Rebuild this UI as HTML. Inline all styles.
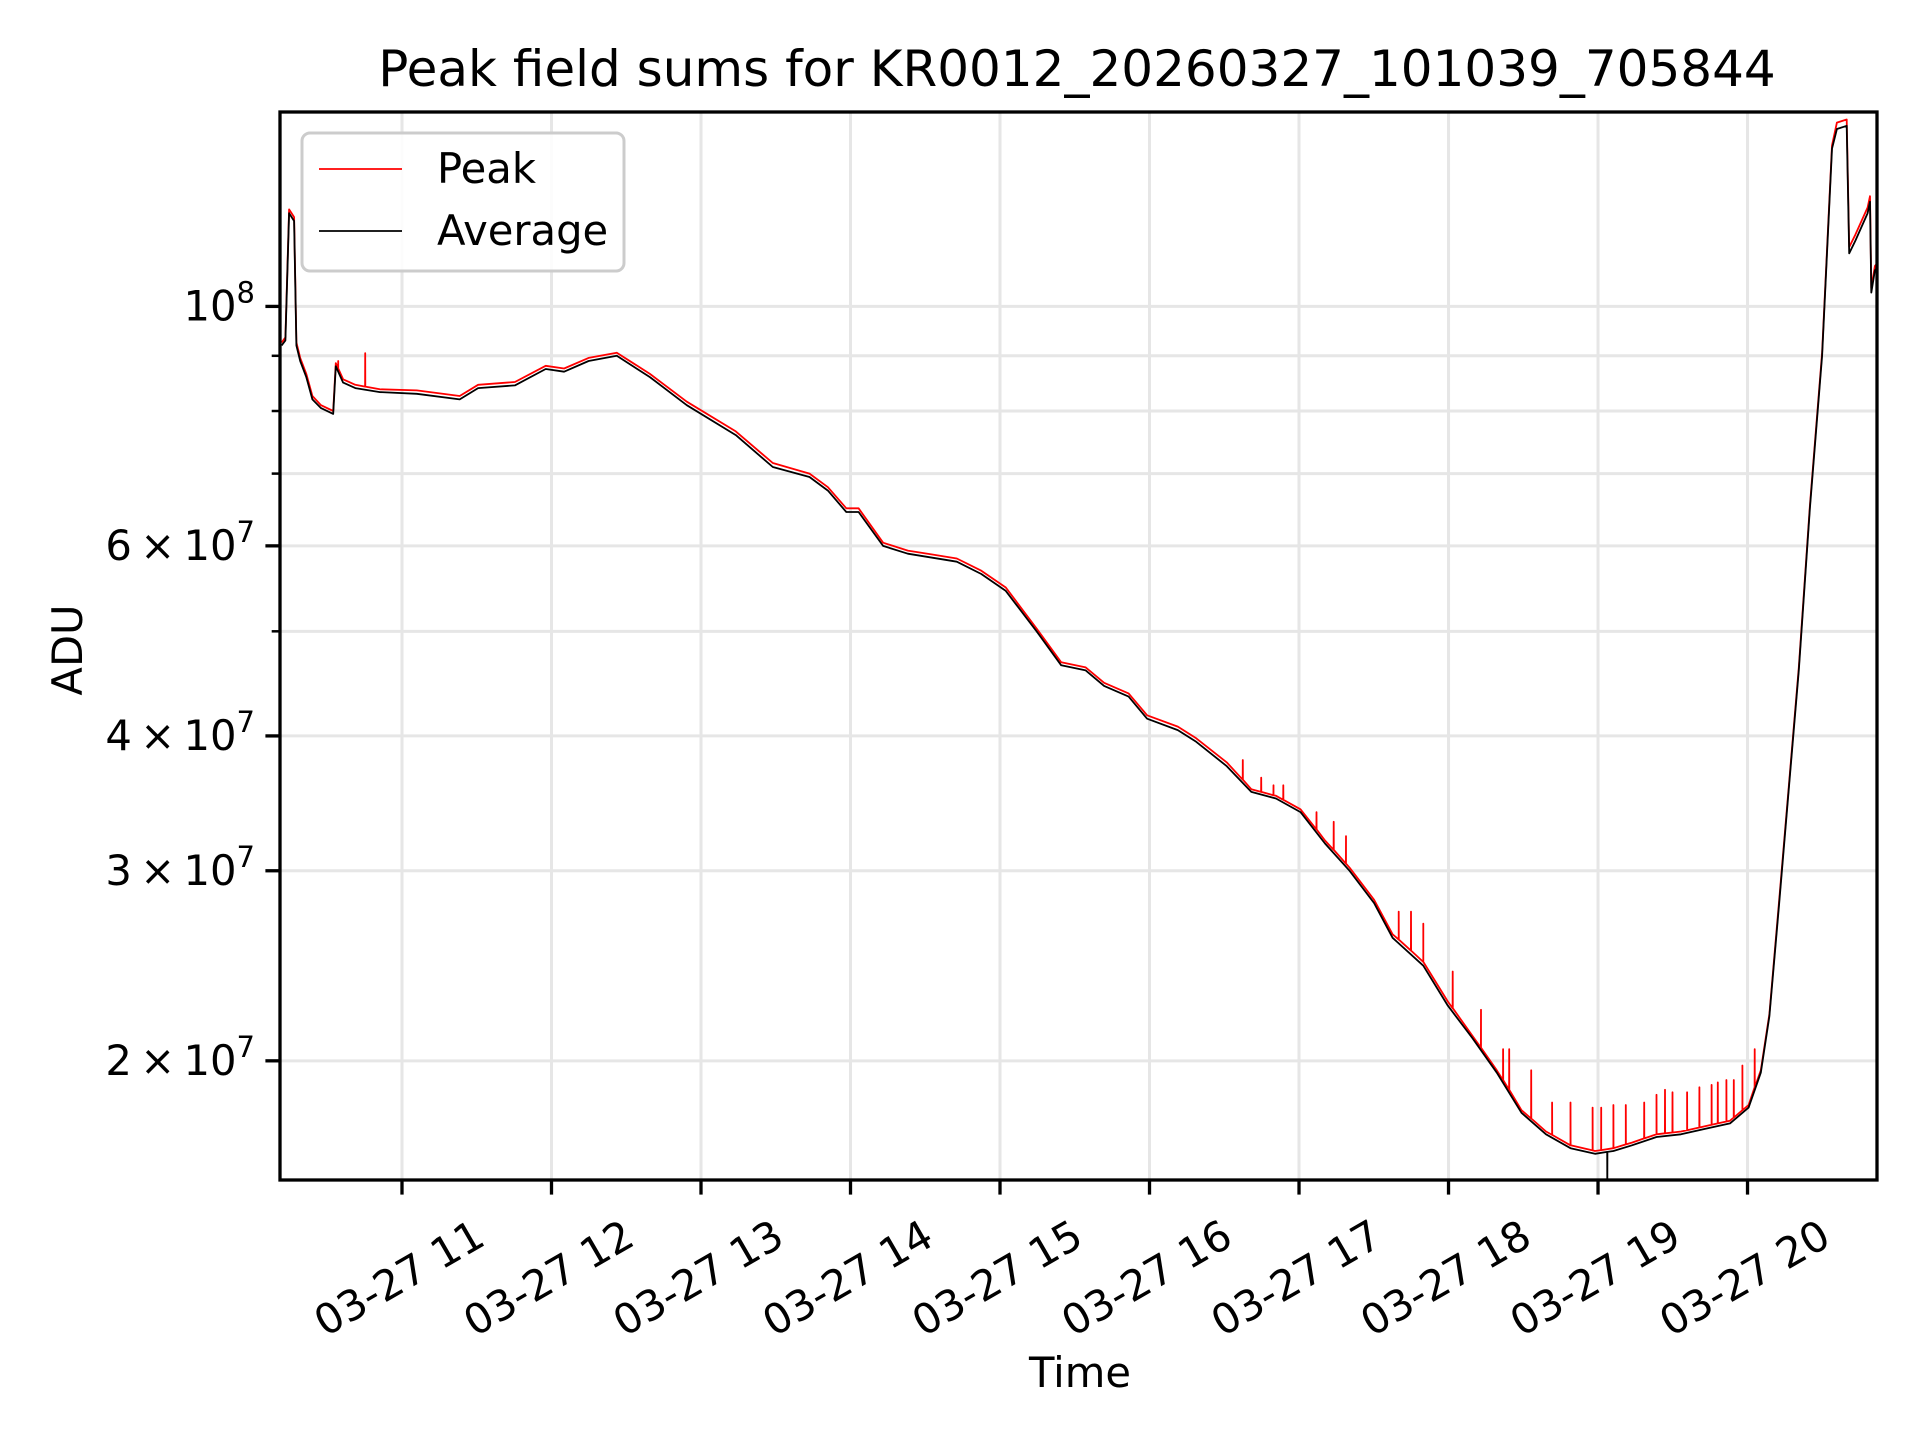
<!DOCTYPE html>
<html><head><meta charset="utf-8"><style>
html,body{margin:0;padding:0;background:#fff;}
svg{display:block;font-family:"DejaVu Sans","Liberation Sans",sans-serif;}
</style></head><body>
<svg id="chart" width="1920" height="1440" viewBox="0 0 1920 1440" xmlns="http://www.w3.org/2000/svg">
<rect width="1920" height="1440" fill="#fff"/>
<text x="1077" y="86" font-size="50" text-anchor="middle">Peak field sums for KR0012_20260327_101039_705844</text>
<g id="grid"></g>
<g id="series"></g>
<g id="axes"></g>
<text x="0" y="0" font-size="41.7" text-anchor="middle" transform="translate(82,650) rotate(-90)">ADU</text>
<text x="1080" y="1387" font-size="41.7" text-anchor="middle">Time</text>
<g>
<rect x="302" y="133" width="322" height="138" rx="8" fill="#fff" fill-opacity="0.85" stroke="#ccc" stroke-width="3"/>
<line x1="319" y1="169" x2="402" y2="169" stroke="#f00" stroke-width="1.8"/>
<text x="437" y="183" font-size="41.7">Peak</text>
<line x1="319" y1="231" x2="402" y2="231" stroke="#000" stroke-width="1.8"/>
<text x="437" y="245" font-size="41.7">Average</text>
</g>
</svg>
<script>
// data (time in decimal hours on 03-27, values in units of 1e7 ADU)
const avgTimes = [10.195,10.220,10.245,10.278,10.294,10.319,10.360,10.401,10.458,10.540,10.557,10.606,10.688,10.852,11.099,11.386,11.509,11.755,11.961,12.084,12.248,12.437,12.658,12.905,13.233,13.480,13.726,13.849,13.972,14.054,14.218,14.383,14.547,14.711,14.875,15.039,15.245,15.409,15.573,15.696,15.860,15.984,16.189,16.312,16.517,16.681,16.846,17.010,17.174,17.338,17.502,17.626,17.831,17.995,18.159,18.323,18.488,18.652,18.816,18.980,19.103,19.227,19.391,19.555,19.719,19.883,20.007,20.089,20.146,20.212,20.278,20.343,20.417,20.499,20.565,20.598,20.663,20.680,20.721,20.803,20.819,20.828,20.852,20.877];
const avgValues = [9.2,9.3,12.2,12.0,9.2,8.9,8.6,8.2,8.05,7.95,8.8,8.5,8.4,8.33,8.3,8.2,8.4,8.45,8.75,8.7,8.9,9.0,8.6,8.1,7.6,7.1,6.95,6.75,6.45,6.45,6.0,5.9,5.85,5.8,5.65,5.45,5.0,4.65,4.6,4.45,4.35,4.15,4.05,3.95,3.75,3.55,3.5,3.4,3.18,3.0,2.8,2.6,2.45,2.25,2.1,1.95,1.79,1.71,1.66,1.64,1.65,1.67,1.7,1.71,1.73,1.75,1.81,1.95,2.2,2.8,3.6,4.6,6.5,9.0,14.0,14.6,14.7,11.2,11.5,12.2,12.5,10.3,10.8,10.9];
const peakValues = [9.26,9.36,12.3,12.1,9.26,8.96,8.66,8.26,8.1,8.0,8.86,8.56,8.46,8.38,8.36,8.26,8.46,8.51,8.81,8.76,8.96,9.06,8.66,8.16,7.66,7.16,7.0,6.8,6.5,6.5,6.04,5.94,5.89,5.84,5.69,5.49,5.03,4.68,4.63,4.48,4.38,4.18,4.08,3.98,3.78,3.57,3.52,3.42,3.2,3.02,2.82,2.62,2.47,2.27,2.11,1.96,1.8,1.72,1.67,1.65,1.66,1.68,1.71,1.72,1.74,1.76,1.82,1.96,2.21,2.82,3.62,4.63,6.54,9.06,14.1,14.8,14.9,11.35,11.65,12.35,12.65,10.4,10.9,11.0];
const spikeTimes = [10.573,10.754,16.624,16.747,16.829,16.895,17.117,17.232,17.314,17.667,17.749,17.831,18.028,18.217,18.365,18.406,18.553,18.693,18.816,18.964,19.021,19.103,19.186,19.309,19.391,19.448,19.498,19.596,19.678,19.760,19.801,19.859,19.908,19.966,20.048];
const spikeValues = [8.9,9.05,3.8,3.66,3.6,3.6,3.4,3.33,3.23,2.75,2.75,2.68,2.42,2.23,2.05,2.05,1.96,1.83,1.83,1.81,1.81,1.82,1.82,1.83,1.86,1.88,1.87,1.87,1.89,1.9,1.91,1.92,1.92,1.98,2.05];
const dipTimes = [19.062];
const dipValues = [1.50];
const yTickValues = [2,3,4,5,6,7,8,9,10];
const yTickLabels = ["2","3","4","","6","","","","8"];
const xTickHours = [11,12,13,14,15,16,17,18,19,20];
const xTickLabels = ["03-27 11","03-27 12","03-27 13","03-27 14","03-27 15","03-27 16","03-27 17","03-27 18","03-27 19","03-27 20"];

const L=280,R=1877,T=112,B=1180;
const X0=10.184,X1=20.866;
const YMIN=Math.log10(1.551),YMAX=Math.log10(15.14);
const NS="http://www.w3.org/2000/svg";
function xs(h){return L+(h-X0)/(X1-X0)*(R-L);}
function ys(v){return B-(Math.log10(v)-YMIN)/(YMAX-YMIN)*(B-T);}
function mk(tag,attrs,parent){const e=document.createElementNS(NS,tag);for(const k in attrs)e.setAttribute(k,attrs[k]);parent.appendChild(e);return e;}
function interp(t,ts,vs){for(let i=1;i<ts.length;i++){if(t<=ts[i]){const f=(t-ts[i-1])/(ts[i]-ts[i-1]);return vs[i-1]+f*(vs[i]-vs[i-1]);}}return vs[vs.length-1];}

const grid=document.getElementById('grid'),series=document.getElementById('series'),axes=document.getElementById('axes');
mk('defs',{},document.getElementById('chart')).innerHTML='<clipPath id="clip"><rect x="'+L+'" y="'+T+'" width="'+(R-L)+'" height="'+(B-T)+'"/></clipPath>';
series.setAttribute('clip-path','url(#clip)');

yTickValues.forEach((v,i)=>{
  const y=ys(v);
  const g=mk('line',{x1:L,x2:R,y1:y,y2:y,stroke:'#e6e6e6','stroke-width':3},grid);
  
  
  const tk=mk('line',{x1:L-(yTickLabels[i]?14.6:8.3),x2:L,y1:y,y2:y,stroke:'#000','stroke-width':yTickLabels[i]?3.3:2.5},axes);
  
  
  if(yTickLabels[i]){
    const t=mk('text',{x:L-25,y:y+14,'font-size':41.7,'text-anchor':'end'},axes);
    
    
    if(yTickLabels[i]==="8"){t.innerHTML='10<tspan dy="-18" font-size="29">8</tspan>';}
    else{t.innerHTML=yTickLabels[i]+'\u2009\u00d7\u200910<tspan dy="-18" font-size="29">7</tspan>';}
  }
});
xTickHours.forEach((h,i)=>{
  const x=xs(h);
  const g=mk('line',{x1:x,x2:x,y1:T,y2:B,stroke:'#e6e6e6','stroke-width':3},grid);
  
  
  const tk=mk('line',{x1:x,x2:x,y1:B,y2:B+14.6,stroke:'#000','stroke-width':3.3},axes);
  
  
  const t=mk('text',{x:0,y:0,'font-size':41.7,'text-anchor':'middle','dominant-baseline':'central',transform:'translate('+(x-3)+',1278) rotate(-30)'},axes);
  
  
  t.textContent=xTickLabels[i];
});
const frame=mk('rect',{x:L,y:T,width:R-L,height:B-T,fill:'none',stroke:'#000','stroke-width':3.3},axes);



// peak line with spikes
let pts=avgTimes.map((t,i)=>[t,peakValues[i]]);
spikeTimes.forEach((t,i)=>{const b=interp(t,avgTimes,peakValues);pts.push([t-0.0005,b],[t,spikeValues[i]],[t+0.0005,b]);});
pts.sort((a,b)=>a[0]-b[0]);
const peak=mk('polyline',{points:pts.map(p=>xs(p[0]).toFixed(1)+','+ys(p[1]).toFixed(1)).join(' '),fill:'none',stroke:'#f00','stroke-width':1.8,'stroke-linejoin':'round'},series);



let apts=avgTimes.map((t,i)=>[t,avgValues[i]]);
dipTimes.forEach((t,i)=>{const b=interp(t,avgTimes,avgValues);apts.push([t-0.0005,b],[t,dipValues[i]],[t+0.0005,b]);});
apts.sort((a,b)=>a[0]-b[0]);
const avg=mk('polyline',{points:apts.map(p=>xs(p[0]).toFixed(1)+','+ys(p[1]).toFixed(1)).join(' '),fill:'none',stroke:'#000','stroke-width':1.8,'stroke-linejoin':'round'},series);


</script>
</body></html>
